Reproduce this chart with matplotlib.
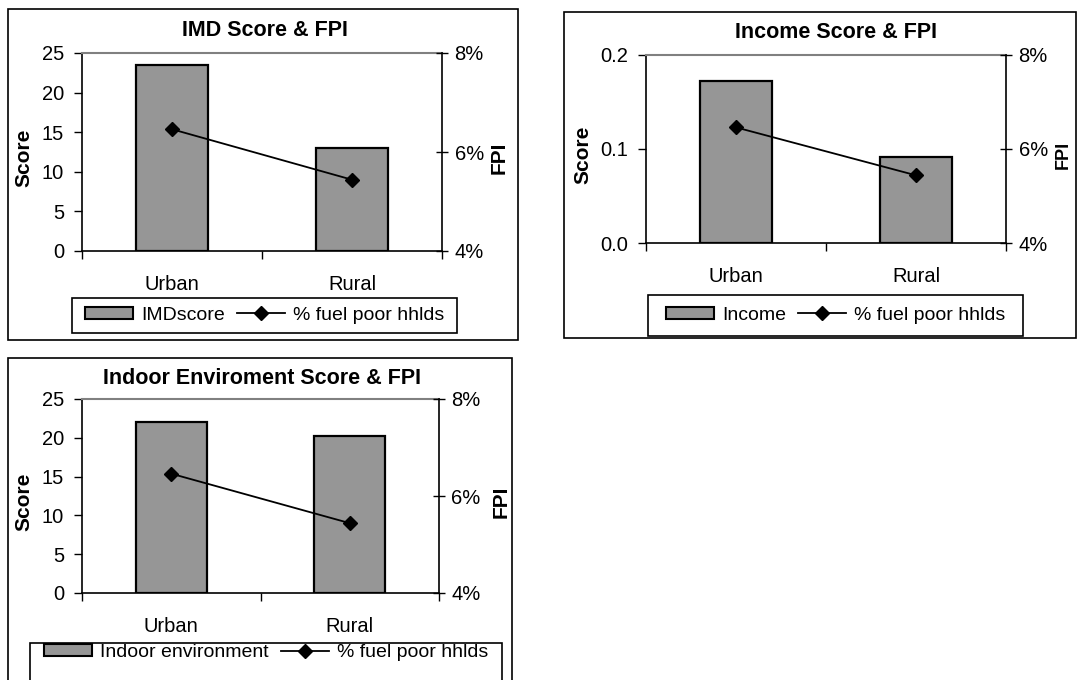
import matplotlib.pyplot as plt
from matplotlib.patches import Rectangle, Patch
from matplotlib.lines import Line2D
from matplotlib.ticker import FuncFormatter

plt.rcParams['font.family'] = ['Liberation Sans', 'DejaVu Sans']

areas = ['Urban', 'Rural']
imd_score = [23.5, 13.0]
income_score = [0.172, 0.091]
indoor_score = [22.0, 20.2]
fuel_poor_pct = [6.46, 5.44]

W, H = 1077, 680
BAR_GREY = '#969696'

score_label_legend = {
    'IMD Score & FPI': 'IMDscore',
    'Income Score & FPI': 'Income',
    'Indoor Enviroment Score & FPI': 'Indoor environment',
}


def px_rect(x0, y0, x1, y1):
    # pixel box (top-left origin) -> figure fraction [left, bottom, width, height]
    return [x0 / W, 1 - y1 / H, (x1 - x0) / W, (y1 - y0) / H]


def draw_panel(fig, box, frame, legend_box, title, title_xy, scores,
               ylim, yticks, yfmt, ylabel_x, fpi_x, fpi_size=15):
    # outer chart border
    fx = px_rect(*frame)
    fig.add_artist(Rectangle((fx[0], fx[1]), fx[2], fx[3], transform=fig.transFigure,
                             fill=False, edgecolor='black', lw=1.2))
    fig.text(title_xy[0] / W, 1 - title_xy[1] / H, title, ha='center', va='center',
             fontsize=15.5, fontweight='bold')

    ax = fig.add_axes(px_rect(*box))
    x = range(len(areas))
    ax.bar(x, scores, width=0.4, color=BAR_GREY, edgecolor='black', linewidth=1.6, zorder=2)
    ax.set_xlim(-0.5, 1.5)
    ax.set_ylim(*ylim)
    ax.set_yticks(yticks)
    ax.yaxis.set_major_formatter(FuncFormatter(yfmt))
    ax.set_xticks(list(x), areas)
    ax.set_xticks([-0.5, 0.5, 1.5], minor=True)
    ax.tick_params(axis='x', which='major', length=0, pad=17, labelsize=14.5)
    ax.tick_params(axis='x', which='minor', length=6, width=1, direction='out')
    ax.tick_params(axis='y', length=6, width=1, direction='out', labelsize=14.5, pad=7)
    ax.spines['top'].set_color('#808080')
    ax.spines['top'].set_linewidth(1.5)
    ax.spines['right'].set_visible(False)
    for s in ('left', 'bottom'):
        ax.spines[s].set_linewidth(1.2)
    ax.set_ylabel('Score', fontsize=15, fontweight='bold')
    ax.yaxis.set_label_coords(ylabel_x, 0.47)

    ax2 = ax.twinx()
    ax2.plot(list(x), fuel_poor_pct, color='black', lw=1.3, marker='D', markersize=7, zorder=3)
    ax2.set_ylim(4, 8)
    ax2.set_yticks([4, 6, 8])
    ax2.yaxis.set_major_formatter(FuncFormatter(lambda v, _: f'{v:.0f}%'))
    ax2.tick_params(axis='y', length=8, width=1, direction='inout', labelsize=14.5, pad=5)
    for s in ('top', 'left', 'bottom'):
        ax2.spines[s].set_visible(False)
    ax2.spines['right'].set_linewidth(1.2)
    ax2.set_ylabel('FPI', fontsize=fpi_size, fontweight='bold', rotation=90)
    ax2.yaxis.set_label_coords(fpi_x, 0.47)

    # legend box below the plot area
    lx = px_rect(*legend_box)
    fig.add_artist(Rectangle((lx[0], lx[1]), lx[2], lx[3], transform=fig.transFigure,
                             fill=False, edgecolor='black', lw=1.2))
    handles = [Patch(facecolor=BAR_GREY, edgecolor='black', linewidth=1.5),
               Line2D([], [], color='black', lw=1.3, marker='D', markersize=7)]
    cx = (legend_box[0] + legend_box[2]) / 2
    cy = (legend_box[1] + min(legend_box[3], 662)) / 2
    fig.legend(handles, [score_label_legend[title], '% fuel poor hhlds'], loc='center',
               bbox_to_anchor=(cx / W, 1 - cy / H), ncol=2, frameon=False, fontsize=14,
               handlelength=2.5, handleheight=0.6, handletextpad=0.4, columnspacing=0.6,
               borderpad=0.2)


fig = plt.figure(figsize=(W / 100, H / 100), dpi=100)

draw_panel(fig, (82, 53, 442, 251), (8, 9, 518, 340), (72, 298, 457, 333),
           'IMD Score & FPI', (265, 30), imd_score,
           (0, 25), [0, 5, 10, 15, 20, 25], lambda v, _: f'{v:.0f}', -0.136, 1.133)

draw_panel(fig, (646, 55, 1006, 243), (564, 12, 1076, 338), (648, 295, 1023, 336),
           'Income Score & FPI', (836, 32), income_score,
           (0, 0.2), [0, 0.1, 0.2], lambda v, _: f'{v:.1f}', -0.15, 1.136, fpi_size=13)

draw_panel(fig, (82, 399, 439, 593), (8, 358, 512, 685), (30, 643, 502, 685),
           'Indoor Enviroment Score & FPI', (262, 378), indoor_score,
           (0, 25), [0, 5, 10, 15, 20, 25], lambda v, _: f'{v:.0f}', -0.137, 1.148)

fig.savefig('out.png', dpi=100)
